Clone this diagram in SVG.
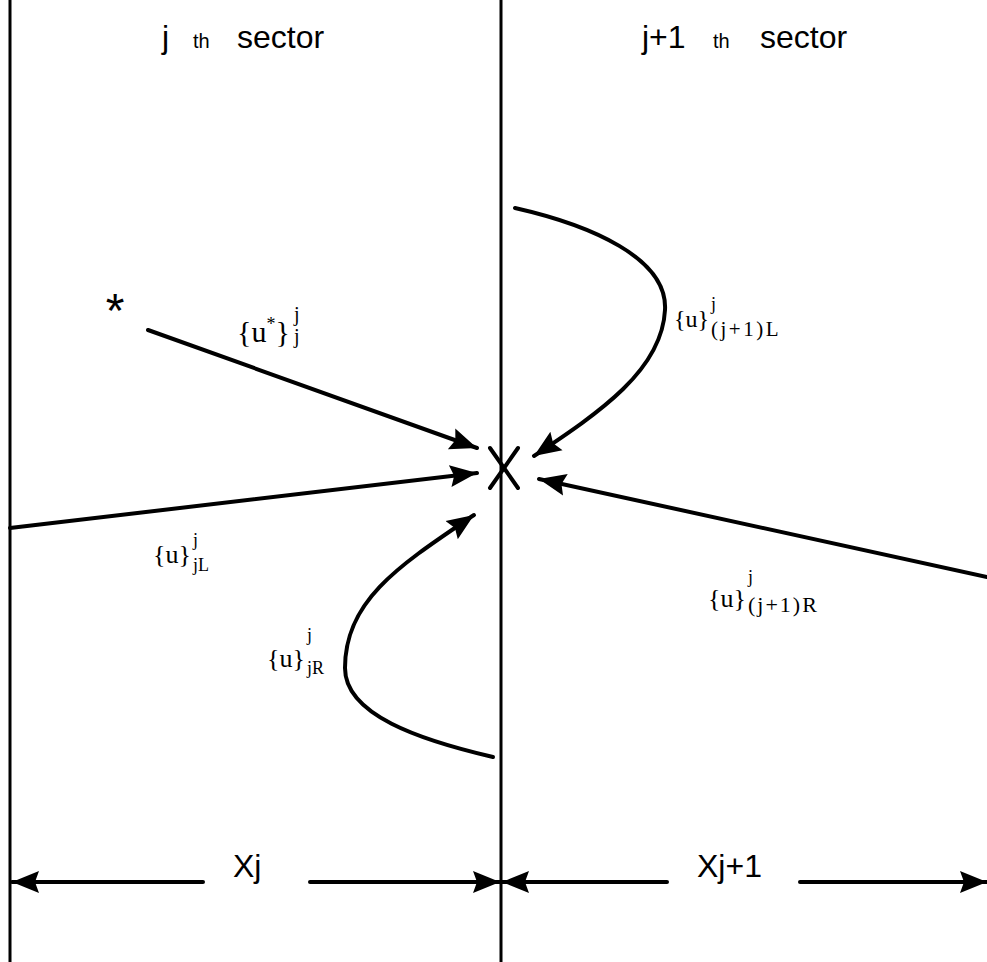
<svg xmlns="http://www.w3.org/2000/svg" width="987" height="962" viewBox="0 0 987 962">
<style>
.ln{stroke:#000;stroke-width:4;fill:none;stroke-linecap:round}
.bd{stroke:#000;stroke-width:3;fill:none}
.sans{font-family:"Liberation Sans",Arial,sans-serif;fill:#000}
.serif{font-family:"Liberation Serif","Times New Roman",serif;fill:#000}
</style>
<defs>
<marker id="ah" markerUnits="userSpaceOnUse" markerWidth="30" markerHeight="26" refX="27" refY="12" orient="auto">
<path d="M0,1 L27,12 L0,23 L4,12 z" fill="#000"/>
</marker>
</defs>
<rect width="987" height="962" fill="#fff"/>
<g id="boundary-left"><line class="bd" x1="10" y1="0" x2="10" y2="962"/></g>
<g id="boundary-mid"><line class="bd" x1="501" y1="0" x2="501" y2="962"/></g>
<g id="sector-j-label" class="sans">
<text x="162" y="48" font-size="32">j</text>
<text x="193" y="48" font-size="20">th</text>
<text x="237" y="48" font-size="32">sector</text>
</g>
<g id="sector-j1-label" class="sans">
<text x="642" y="48" font-size="32">j+1</text>
<text x="713" y="48" font-size="20">th</text>
<text x="760" y="48" font-size="32">sector</text>
</g>
<g id="star"><text class="sans" x="115" y="327" font-size="48" text-anchor="middle">*</text></g>
<g id="x-mark">
<line class="ln" x1="490" y1="448" x2="518" y2="488"/>
<line class="ln" x1="518" y1="448" x2="490" y2="488"/>
</g>
<g id="connectors">
<line class="ln" x1="148" y1="330" x2="477" y2="448" marker-end="url(#ah)"/>
<line class="ln" x1="10" y1="528" x2="477" y2="473" marker-end="url(#ah)"/>
<line class="ln" x1="987" y1="577" x2="539" y2="479" marker-end="url(#ah)"/>
<path class="ln" d="M515,208 C590,225 668,258 665,310 C662,370 600,412 534,456" marker-end="url(#ah)"/>
<path class="ln" d="M493,757 C420,740 345,715 345,668 C345,600 400,565 474,515" marker-end="url(#ah)"/>
<line class="ln" x1="203" y1="882" x2="12" y2="882" marker-end="url(#ah)"/>
<line class="ln" x1="310" y1="882" x2="500" y2="882" marker-end="url(#ah)"/>
<line class="ln" x1="667" y1="882" x2="502" y2="882" marker-end="url(#ah)"/>
<line class="ln" x1="800" y1="882" x2="987" y2="882" marker-end="url(#ah)"/>
</g>
<g id="label-ustar" class="serif">
<text x="237" y="342" font-size="30">{u<tspan font-size="18" dy="-12">*</tspan><tspan dy="12">}</tspan></text>
<text x="294" y="321" font-size="20">j</text>
<text x="294" y="343" font-size="20">j</text>
</g>
<g id="label-jL" class="serif">
<text x="153" y="563" font-size="26">{u}</text>
<text x="193" y="546" font-size="18">j</text>
<text x="193" y="571" font-size="18">jL</text>
</g>
<g id="label-jR" class="serif">
<text x="267" y="667" font-size="26">{u}</text>
<text x="307" y="641" font-size="18">j</text>
<text x="307" y="674" font-size="18">jR</text>
</g>
<g id="label-j1L" class="serif">
<text x="674" y="327" font-size="24">{u}</text>
<text x="711" y="310" font-size="18">j</text>
<text x="711" y="336" font-size="21" letter-spacing="2.5">(j+1)L</text>
</g>
<g id="label-j1R" class="serif">
<text x="708" y="607" font-size="26">{u}</text>
<text x="748" y="583" font-size="18">j</text>
<text x="748" y="612" font-size="22" letter-spacing="2">(j+1)R</text>
</g>
<g id="dim-xj" class="sans"><text x="233" y="877" font-size="32">Xj</text></g>
<g id="dim-xj1" class="sans"><text x="697" y="877" font-size="32">Xj+1</text></g>
</svg>
